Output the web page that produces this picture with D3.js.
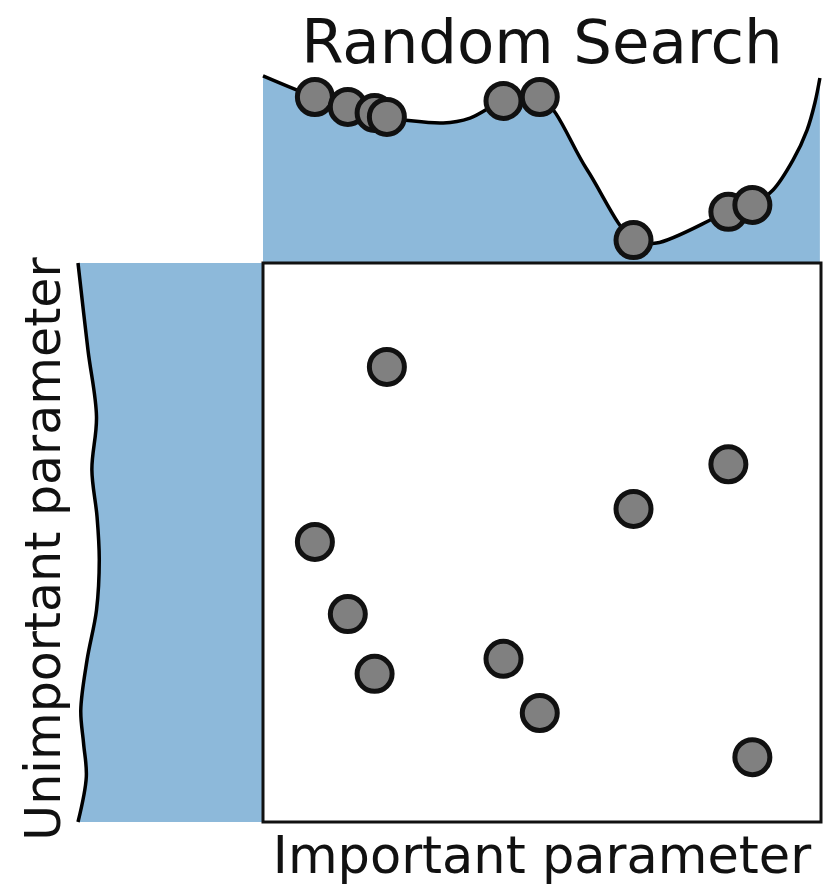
<!DOCTYPE html>
<html>
<head>
<meta charset="utf-8">
<script src="https://cdn.jsdelivr.net/npm/d3@7"></script>
<style>
html,body{margin:0;padding:0;background:#fff;}
svg{display:block;}
text{font-family:"DejaVu Sans",sans-serif;fill:#111;}
</style>
</head>
<body>
<svg id="chart" width="823" height="884"></svg>
<script>
// ---- data ----
const title = "Random Search";
const xLabel = "Important parameter";
const yLabel = "Unimportant parameter";

// sampled points (important, unimportant), both in [0,1]
const importantVals   = [0.093, 0.152, 0.200, 0.222, 0.431, 0.496, 0.664, 0.834, 0.877];
const unimportantVals = [0.501, 0.372, 0.265, 0.814, 0.292, 0.195, 0.560, 0.640, 0.116];

// response along important parameter (top panel)
const topCurveX = [0.000, 0.093, 0.152, 0.200, 0.222, 0.323, 0.371, 0.431, 0.496, 0.580, 0.664, 0.705, 0.834, 0.877, 0.914, 0.950, 0.975, 0.989, 0.998];
const topCurveF = [0.995, 0.883, 0.830, 0.798, 0.777, 0.745, 0.771, 0.862, 0.883, 0.500, 0.122, 0.106, 0.272, 0.309, 0.388, 0.548, 0.707, 0.851, 0.984];

// response along unimportant parameter (left panel)
const leftCurveU = [0.000, 0.081, 0.141, 0.200, 0.290, 0.379, 0.469, 0.546, 0.630, 0.725, 0.844, 1.000];
const leftCurveG = [1.000, 0.955, 0.970, 0.985, 0.951, 0.900, 0.885, 0.897, 0.925, 0.900, 0.946, 1.000];

// ---- layout ----
const svg = d3.select("#chart");
const box = {x0: 263, x1: 821, y0: 263, y1: 822};
const topPanel = {y0: 75, y1: 263};
const leftPanel = {x0: 78, x1: 263};
const fillColor = "#8db9da";
const curve = d3.curveCatmullRom.alpha(0.5);

const x = d3.scaleLinear().domain([0, 1]).range([box.x0, box.x1]);
const y = d3.scaleLinear().domain([0, 1]).range([box.y1, box.y0]);
const fTop = d3.scaleLinear().domain([0, 1]).range([topPanel.y1, topPanel.y0]);
const gLeft = d3.scaleLinear().domain([0, 1]).range([leftPanel.x1, leftPanel.x0]);

// top panel
const topData = topCurveX.map((v, i) => ({x: v, f: topCurveF[i]}));
const topInterp = d3.scaleLinear().domain(topCurveX).range(topCurveF);
svg.append("path")
  .attr("d", d3.area().x(d => x(d.x)).y0(topPanel.y1).y1(d => fTop(d.f)).curve(curve)(topData))
  .attr("fill", fillColor);
svg.append("path")
  .attr("d", d3.line().x(d => x(d.x)).y(d => fTop(d.f)).curve(curve)(topData))
  .attr("fill", "none").attr("stroke", "#000").attr("stroke-width", 3.5);

// left panel
const leftData = leftCurveU.map((v, i) => ({u: v, g: leftCurveG[i]}));
svg.append("path")
  .attr("d", d3.area().y(d => y(d.u)).x0(leftPanel.x1).x1(d => gLeft(d.g)).curve(curve)(leftData))
  .attr("fill", fillColor);
svg.append("path")
  .attr("d", d3.line().y(d => y(d.u)).x(d => gLeft(d.g)).curve(curve)(leftData))
  .attr("fill", "none").attr("stroke", "#000").attr("stroke-width", 3.5);

// main box
svg.append("rect")
  .attr("x", box.x0).attr("y", box.y0)
  .attr("width", box.x1 - box.x0).attr("height", box.y1 - box.y0)
  .attr("fill", "#fff").attr("stroke", "#111").attr("stroke-width", 3);

// points projected onto top curve
svg.append("g").selectAll("circle")
  .data(importantVals)
  .join("circle")
  .attr("cx", d => x(d))
  .attr("cy", d => fTop(topInterp(d)))
  .attr("r", 17.5)
  .attr("fill", "#808080").attr("stroke", "#111").attr("stroke-width", 5);

// scatter points
svg.append("g").selectAll("circle")
  .data(importantVals.map((v, i) => [v, unimportantVals[i]]))
  .join("circle")
  .attr("cx", d => x(d[0]))
  .attr("cy", d => y(d[1]))
  .attr("r", 17.5)
  .attr("fill", "#808080").attr("stroke", "#111").attr("stroke-width", 5);

// texts
svg.append("text").attr("x", 542).attr("y", 63).attr("text-anchor", "middle")
  .attr("font-size", 61).text(title);
svg.append("text").attr("x", 542).attr("y", 873).attr("text-anchor", "middle")
  .attr("font-size", 51).text(xLabel);
svg.append("text").attr("transform", "translate(60,549) rotate(-90)").attr("text-anchor", "middle")
  .attr("font-size", 49).text(yLabel);
</script>
</body>
</html>
